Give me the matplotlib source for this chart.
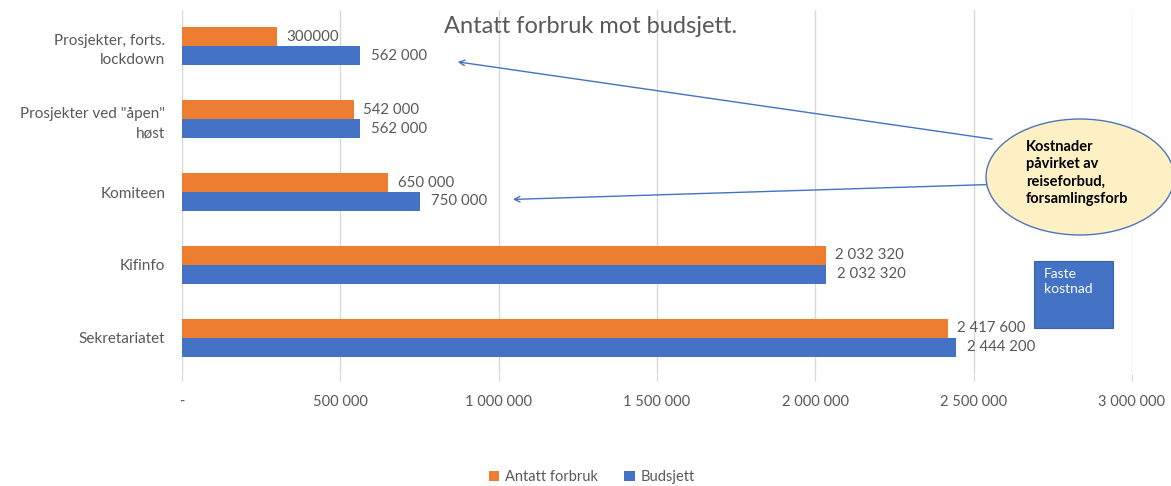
import matplotlib.pyplot as plt
from matplotlib.patches import Ellipse, Rectangle
from matplotlib.ticker import FuncFormatter
import numpy as np

plt.rcParams['font.family'] = ['Lato', 'DejaVu Sans']

categories = ['Prosjekter, forts.\nlockdown', 'Prosjekter ved "åpen"\nhøst',
              'Komiteen', 'Kifinfo', 'Sekretariatet']
forbruk = [300000, 542000, 650000, 2032320, 2417600]
budsjett = [562000, 562000, 750000, 2032320, 2444200]
forbruk_labels = ['300000', '542 000', '650 000', '2 032 320', '2 417 600']
budsjett_labels = ['562 000', '562 000', '750 000', '2 032 320', '2 444 200']
xticks = [0, 500000, 1000000, 1500000, 2000000, 2500000, 3000000]

orange = '#ed7d31'
blue = '#4472c4'
grey = '#595959'


def thousands(v, pos):
  if v == 0:
    return '-'
  return f'{int(v):,}'.replace(',', ' ')


if __name__ == '__main__':
  W, H = 1171, 486
  fig = plt.figure(figsize=(W/100, H/100), dpi=100)
  ax = fig.add_axes([182/W, 1 - 374/H, (1132 - 182)/W, 364/H])

  y = np.arange(len(categories))
  h = 0.26
  b1 = ax.barh(y - h/2, forbruk, height=h, color=orange, label='Antatt forbruk')
  b2 = ax.barh(y + h/2, budsjett, height=h, color=blue, label='Budsjett')

  for rect, lab in zip(b1, forbruk_labels):
    ax.annotate(lab, (rect.get_width(), rect.get_y() + rect.get_height()/2),
                xytext=(7, 0), textcoords='offset points', va='center',
                fontsize=10.8, color=grey)
  for rect, lab in zip(b2, budsjett_labels):
    ax.annotate(lab, (rect.get_width(), rect.get_y() + rect.get_height()/2),
                xytext=(8, 0), textcoords='offset points', va='center',
                fontsize=10.8, color=grey)

  ax.set_xlim(0, 3000000)
  ax.set_ylim(len(categories) - 0.5, -0.5)
  ax.set_yticks(y)
  ax.set_yticklabels(categories, fontsize=11, color=grey, linespacing=1.5)
  ax.set_xticks(xticks)
  ax.xaxis.set_major_formatter(FuncFormatter(thousands))
  ax.tick_params(axis='y', length=0, pad=12)
  ax.tick_params(axis='x', length=5, color='#d9d9d9', labelsize=10.5,
                 labelcolor=grey, pad=10)
  for s in ax.spines.values():
    s.set_visible(False)
  ax.grid(axis='x', color='#d9d9d9', lw=1)
  ax.set_axisbelow(True)

  ax.text(0.43, 0.955, 'Antatt forbruk mot budsjett.', transform=ax.transAxes,
          ha='center', va='center', fontsize=17, color=grey)

  # callout arrows
  ax.annotate('', xy=(862000, 0.207), xytext=(2567000, 1.279),
              arrowprops=dict(arrowstyle='->', color=blue, lw=1))
  ax.annotate('', xy=(1036000, 2.103), xytext=(2552000, 1.897),
              arrowprops=dict(arrowstyle='->', color=blue, lw=1))

  ell = Ellipse((1080/W, 1 - 177/H), 188/W, 116/H, transform=fig.transFigure,
                facecolor='#fdf0c4', edgecolor='#4f74bd', lw=1)
  fig.add_artist(ell)
  fig.text(1026/W, 1 - 173/H, 'Kostnader\npåvirket av\nreiseforbud,\nforsamlingsforb',
           ha='left', va='center', fontsize=10.5, fontweight='bold', color='black',
           linespacing=1.3)

  box = Rectangle((1034/W, 1 - 328/H), 79/W, 67/H, transform=fig.transFigure,
                  facecolor=blue, edgecolor='#3a64b0', lw=0.8)
  fig.add_artist(box)
  fig.text(1044/W, 1 - 268/H, 'Faste\nkostnad', ha='left', va='top',
           fontsize=10, color='white', linespacing=1.3)

  fig.legend(handles=[b1, b2], loc='center', bbox_to_anchor=(592/W, 1 - 477/H),
             ncol=2, frameon=False, fontsize=10.5, labelcolor=grey,
             handlelength=0.7, handleheight=0.7, handletextpad=0.4,
             columnspacing=1.8)

  fig.savefig('out.png', dpi=100)
